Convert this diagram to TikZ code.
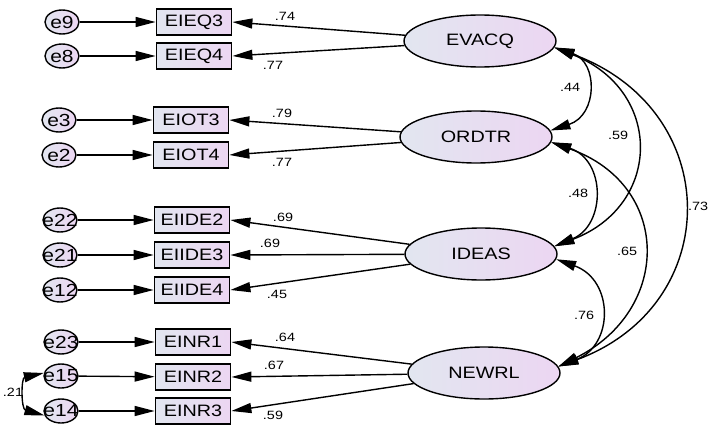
\documentclass[tikz,border=0pt]{standalone}
\usepackage{fontspec}
\setmainfont{Liberation Sans}[FakeStretch=1.2]
\usetikzlibrary{arrows.meta,shapes.geometric}
\definecolor{shl}{RGB}{226,230,240}
\definecolor{shr}{RGB}{236,214,242}
\begin{document}
\begin{tikzpicture}[x=1pt,y=-1pt,
 obs/.style={draw, line width=1.8pt, rectangle, minimum width=75pt, minimum height=26pt, inner sep=0pt, left color=shl, right color=shr, font=\fontsize{16.5}{18}\selectfont},
 err/.style={draw, line width=1.4pt, ellipse, minimum width=34pt, minimum height=24pt, inner sep=0pt, left color=shl, right color=shr, font=\fontsize{17.5}{18}\selectfont},
 lat/.style={draw, line width=1.4pt, ellipse, minimum width=152pt, minimum height=52pt, inner sep=0pt, left color=shl, right color=shr, font=\fontsize{16.5}{18}\selectfont},
 arr/.style={line width=1.4pt, -{Triangle[length=20pt,width=10pt]}},
 cov/.style={line width=1.4pt, {Triangle[length=20pt,width=10pt]}-{Triangle[length=20pt,width=10pt]}},
 lab/.style={font=\fontsize{12}{13}\selectfont, inner sep=0pt}]
\useasboundingbox (0,0) rectangle (708,425);
% error terms
\node[err] (e9)  at (62,22)  {\makebox[0pt]{e9}};
\node[err] (e8)  at (62,56)  {\makebox[0pt]{e8}};
\node[err] (e3)  at (59,120) {\makebox[0pt]{e3}};
\node[err] (e2)  at (59,155) {\makebox[0pt]{e2}};
\node[err] (e22) at (60,220) {\makebox[0pt]{e22}};
\node[err] (e21) at (60,255) {\makebox[0pt]{e21}};
\node[err] (e12) at (60,290) {\makebox[0pt]{e12}};
\node[err] (e23) at (61,342) {\makebox[0pt]{e23}};
\node[err] (e15) at (61,376) {\makebox[0pt]{e15}};
\node[err] (e14) at (61,411) {\makebox[0pt]{e14}};
% observed
\node[obs] (EIEQ3)  at (194,22)  {EIEQ3};
\node[obs] (EIEQ4)  at (194,56)  {EIEQ4};
\node[obs] (EIOT3)  at (191,120) {EIOT3};
\node[obs] (EIOT4)  at (191,155) {EIOT4};
\node[obs] (EIIDE2) at (192,220) {EIIDE2};
\node[obs] (EIIDE3) at (192,255) {EIIDE3};
\node[obs] (EIIDE4) at (192,290) {EIIDE4};
\node[obs] (EINR1)  at (193,342) {EINR1};
\node[obs] (EINR2)  at (193,377) {EINR2};
\node[obs] (EINR3)  at (193,411) {EINR3};
% latents
\node[lat] (EVACQ) at (480,41)  {EVACQ};
\node[lat] (ORDTR) at (476,137) {ORDTR};
\node[lat] (IDEAS) at (481,254) {IDEAS};
\node[lat] (NEWRL) at (484,373) {NEWRL};
% error arrows
\foreach \e/\b in {e9/EIEQ3,e8/EIEQ4,e3/EIOT3,e2/EIOT4,e22/EIIDE2,e21/EIIDE3,e12/EIIDE4,e23/EINR1,e15/EINR2,e14/EINR3}
  \draw[arr] (\e) -- (\b);
% loadings
\foreach \l/\b in {EVACQ/EIEQ3,EVACQ/EIEQ4,ORDTR/EIOT3,ORDTR/EIOT4,IDEAS/EIIDE2,IDEAS/EIIDE3,IDEAS/EIIDE4,NEWRL/EINR1,NEWRL/EINR2,NEWRL/EINR3}
  \draw[arr] (\l) -- (\b.east);
% loading labels
\node[lab] (l1)  at (285,16)  {.74};
\node[lab] (l2)  at (273,65)  {.77};
\node[lab] (l3)  at (282,113) {.79};
\node[lab] (l4)  at (282,162) {.77};
\node[lab] (l5)  at (283,217) {.69};
\node[lab] (l6)  at (270,243) {.69};
\node[lab] (l7)  at (277,294) {.45};
\node[lab] (l8)  at (285,337) {.64};
\node[lab] (l9)  at (274,365) {.67};
\node[lab] (l10) at (273,415) {.59};
% covariances
\draw[cov] (EVACQ.-5) .. controls (598,62) and (598,115) .. (ORDTR.5);
\draw[cov] (EVACQ.-5) .. controls (663,90) and (663,205) .. (IDEAS.6);
\draw[cov] (EVACQ.-5) .. controls (725,110) and (725,305) .. (NEWRL.5);
\draw[cov] (ORDTR.-4) .. controls (606,160) and (606,225) .. (IDEAS.6);
\draw[cov] (ORDTR.-4) .. controls (672,185) and (672,310) .. (NEWRL.5);
\draw[cov] (IDEAS.-4) .. controls (614,280) and (614,345) .. (NEWRL.5);
\draw[cov] (e15.170) .. controls (21,378) and (21,409) .. (e14.195);
\node[lab] (c1) at (570,87)  {.44};
\node[lab] (c2) at (618,135) {.59};
\node[lab] (c3) at (698,206) {.73};
\node[lab] (c4) at (578,193) {.48};
\node[lab] (c5) at (627,251) {.65};
\node[lab] (c6) at (584,315) {.76};
\node[lab] (c7) at (13,392)  {.21};
\end{tikzpicture}
\end{document}
